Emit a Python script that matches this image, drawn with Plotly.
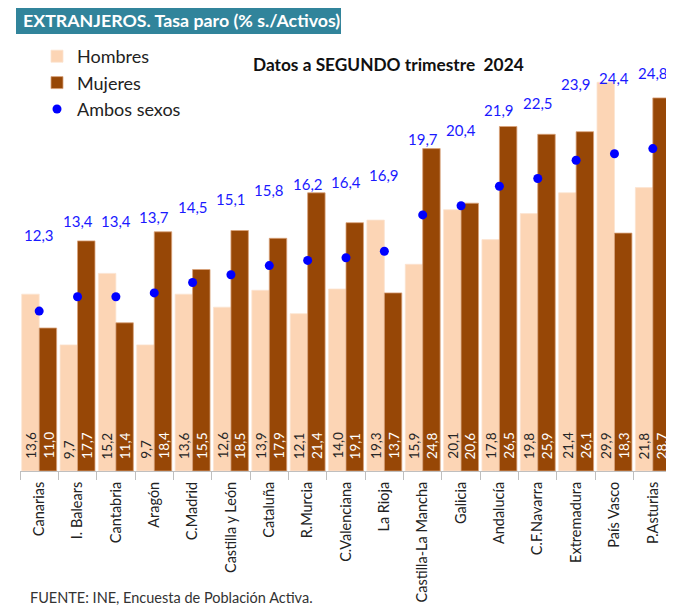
import plotly.graph_objects as go

categorias = ["Canarias", "I. Balears", "Cantabria", "Aragón", "C.Madrid", "Castilla y León",
              "Cataluña", "R.Murcia", "C.Valenciana", "La Rioja", "Castilla-La Mancha", "Galicia",
              "Andalucía", "C.F.Navarra", "Extremadura", "País Vasco", "P.Asturias"]
hombres = [13.6, 9.7, 15.2, 9.7, 13.6, 12.6, 13.9, 12.1, 14.0, 19.3, 15.9, 20.1, 17.8, 19.8, 21.4, 29.9, 21.8]
mujeres = [11.0, 17.7, 11.4, 18.4, 15.5, 18.5, 17.9, 21.4, 19.1, 13.7, 24.8, 20.6, 26.5, 25.9, 26.1, 18.3, 28.7]
ambos = [12.3, 13.4, 13.4, 13.7, 14.5, 15.1, 15.8, 16.2, 16.4, 16.9, 19.7, 20.4, 21.9, 22.5, 23.9, 24.4, 24.8]

# The page body adds an 8px offset; the figure is sized so that it ends at the window edge.
OFF = 8
W, H = 674 - OFF, 606 - OFF
L, R, T, B = 20 - OFF, 2, 81 - OFF, 135
PW, PH = W - L - R, H - T - B
FONT = "Lato"


def fmt(v):
    return f"{v:.1f}".replace(".", ",")


def px_x(px):
    # px: horizontal position in the 674x606 window
    return (px - OFF - L) / PW


def px_y(py):
    return (H - B - (py - OFF)) / PH


fig = go.Figure()
fig.add_trace(go.Bar(name="Hombres", x=categorias, y=hombres,
                     marker=dict(color="#FCD5B5", line=dict(color="#FBE3D0", width=0.8))))
fig.add_trace(go.Bar(name="Mujeres", x=categorias, y=mujeres,
                     marker=dict(color="#974706", line=dict(color="#D9A27A", width=0.8))))
fig.add_trace(go.Scatter(name="Ambos sexos", x=categorias, y=ambos, mode="markers",
                         marker=dict(color="#0000FF", size=9)))

annotations = []
for c, h, m, a in zip(categorias, hombres, mujeres, ambos):
    annotations.append(dict(x=c, y=a, xref="x", yref="y", text=fmt(a), showarrow=False,
                            yshift=76, font=dict(family=FONT, size=15, color="#1A1AFF")))
    annotations.append(dict(x=c, y=0, xref="x", yref="y", text=fmt(h), showarrow=False,
                            textangle=-90, yanchor="bottom", xshift=-8.9, yshift=10,
                            font=dict(family=FONT, size=13.5, color="#262626")))
    annotations.append(dict(x=c, y=0, xref="x", yref="y", text=fmt(m), showarrow=False,
                            textangle=-90, yanchor="bottom", xshift=8.9, yshift=10,
                            font=dict(family=FONT, size=13.5, color="#FFFFFF")))

annotations.append(dict(x=px_x(21), y=px_y(20), xref="paper", yref="paper", xanchor="left",
                        yanchor="middle", showarrow=False,
                        text="<b>EXTRANJEROS. Tasa paro (% s./Activos)</b>",
                        font=dict(family=FONT, size=17.8, color="#FFFFFF")))
annotations.append(dict(x=px_x(388), y=px_y(65), xref="paper", yref="paper", xanchor="center",
                        yanchor="middle", showarrow=False,
                        text="<b>Datos a SEGUNDO trimestre  2024</b>",
                        font=dict(family=FONT, size=17.3, color="#111111")))
annotations.append(dict(x=px_x(28), y=px_y(597), xref="paper", yref="paper", xanchor="left",
                        yanchor="middle", showarrow=False,
                        text="FUENTE: INE, Encuesta de Población Activa.",
                        font=dict(family=FONT, size=14.5, color="#333333")))

shapes = [dict(type="rect", xref="paper", yref="paper", x0=px_x(16), x1=px_x(341),
               y0=px_y(34), y1=px_y(7), fillcolor="#31849B", line=dict(width=0), layer="below")]

fig.update_layout(
    width=W, height=H,
    margin=dict(l=L, r=R, t=T, b=B, pad=0, autoexpand=False),
    paper_bgcolor="white", plot_bgcolor="white",
    barmode="group", bargap=0.09, bargroupgap=0.0,
    font=dict(family=FONT, size=14, color="#222222"),
    showlegend=True,
    legend=dict(x=px_x(37), y=px_y(38), xanchor="left", yanchor="top",
                font=dict(family=FONT, size=18, color="#222222"),
                bgcolor="rgba(0,0,0,0)", tracegroupgap=0, itemwidth=30),
    xaxis=dict(type="category", range=[-0.5, len(categorias) - 0.5],
               showline=True, linecolor="#BFBFBF", linewidth=1,
               ticks="outside", tickson="boundaries", ticklen=8, tickcolor="#BFBFBF",
               tickangle=-90, ticklabelstandoff=4,
               tickfont=dict(family=FONT, size=14.5, color="#222222"),
               showgrid=False, zeroline=False, automargin=False),
    yaxis=dict(range=[0, 30], visible=False, showgrid=False, zeroline=False, automargin=False),
    annotations=annotations,
    shapes=shapes,
)

fig.write_html("out.html")
